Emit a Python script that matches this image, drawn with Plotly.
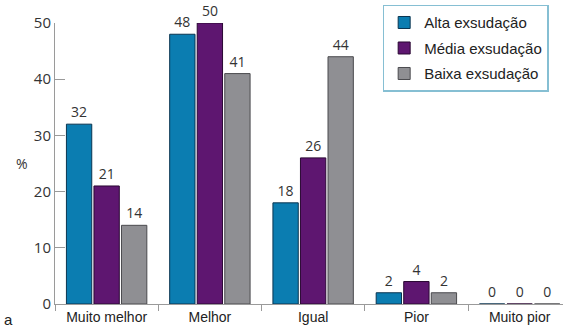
import plotly.graph_objects as go

categorias = ["Muito melhor", "Melhor", "Igual", "Pior", "Muito pior"]
alta = [32, 48, 18, 2, 0]
media = [21, 50, 26, 4, 0]
baixa = [14, 41, 44, 2, 0]
y_ticks = [0, 10, 20, 30, 40, 50]

series = [
    ("Alta exsudação", alta, "#0b7db1", "#0a3550"),
    ("Média exsudação", media, "#5e1670", "#2a0833"),
    ("Baixa exsudação", baixa, "#8f8f93", "#4a4a4e"),
]

fig = go.Figure()
for nome, vals, cor, borda in series:
    fig.add_trace(go.Bar(
        x=categorias, y=vals, name=nome, legendgroup=nome,
        marker=dict(color=cor, line=dict(color=borda, width=1)),
        text=vals, texttemplate="%{y}", textposition="outside",
        textfont=dict(family="Open Sans", size=14, color="#333333"),
        cliponaxis=False,
    ))

fig.update_layout(
    width=563, height=329,
    margin=dict(l=55, r=0, t=23, b=25),
    paper_bgcolor="white", plot_bgcolor="white",
    barmode="group", bargap=0.2, bargroupgap=0.08,
    showlegend=True,
    legend=dict(
        x=0.645, y=1.065, xanchor="left", yanchor="top",
        bgcolor="white", bordercolor="#86bfd3", borderwidth=1.5,
        font=dict(family="Liberation Sans", size=15, color="#222222"),
        itemwidth=30, tracegroupgap=3,
    ),
    xaxis=dict(
        range=[-0.5, 4.42], showgrid=False,
        showline=True, linecolor="#9a9a9a", linewidth=1,
        ticks="outside", tickson="boundaries", ticklen=6, tickcolor="#9a9a9a",
        tickfont=dict(family="Liberation Sans Narrow, Liberation Sans", size=14, color="#222222"),
    ),
    yaxis=dict(
        range=[0, 50], tickvals=y_ticks, showgrid=False, zeroline=False,
        showline=True, linecolor="#9a9a9a", linewidth=1,
        ticks="inside", ticklen=10, tickcolor="#9a9a9a",
        tickfont=dict(family="Open Sans", size=15, color="#333333"),
    ),
)

fig.add_annotation(text="%", xref="paper", yref="paper", x=-0.065, y=0.5,
                   xanchor="center", yanchor="middle", showarrow=False,
                   font=dict(family="Open Sans", size=14, color="#333333"))
fig.add_annotation(text="a", xref="paper", yref="paper", x=-0.105, y=-0.055,
                   xanchor="left", yanchor="middle", showarrow=False,
                   font=dict(family="Liberation Sans", size=15, color="#222222"))

fig.write_html("out.html")
